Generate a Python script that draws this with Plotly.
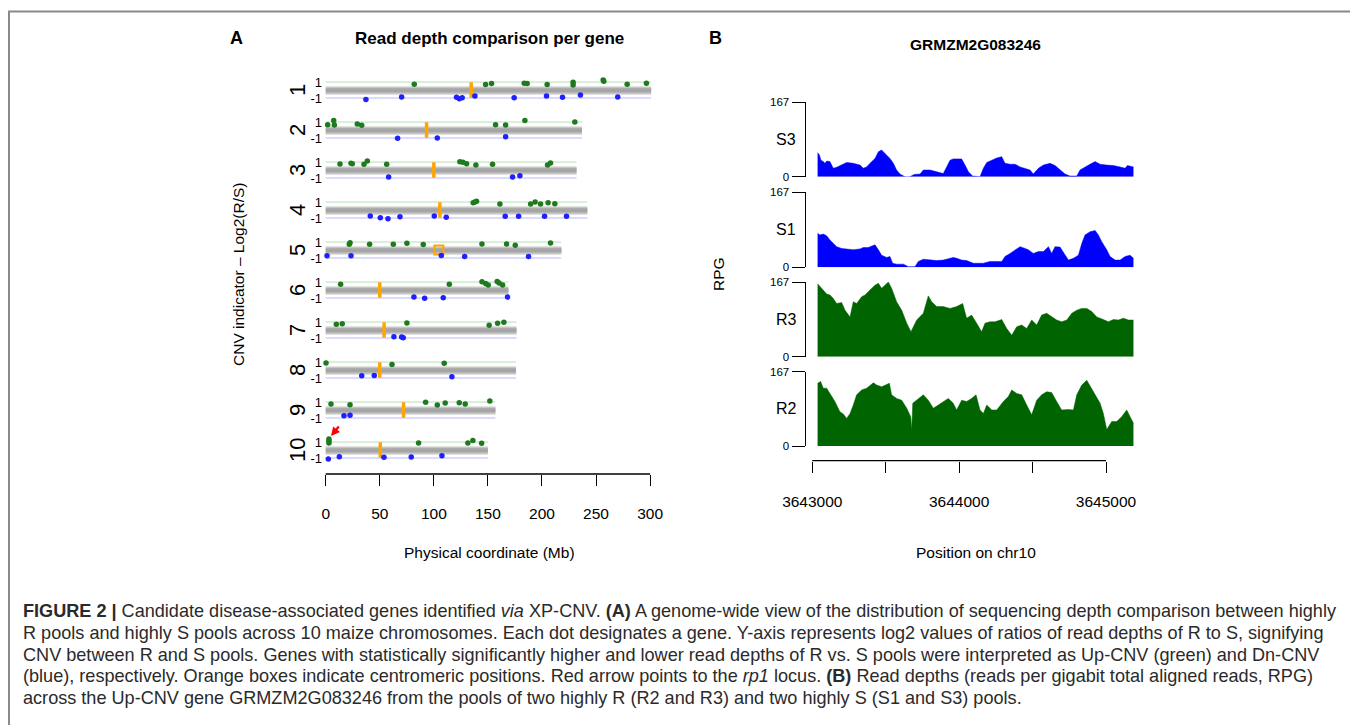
import plotly.graph_objects as go

# The page body adds an 8 px margin, so the figure is drawn 8 px smaller and all
# layout positions below are given in screen pixels and shifted by that margin.
PAGE_MARGIN = 8
W, H = 1358 - PAGE_MARGIN, 725 - PAGE_MARGIN


def fx(p):
    return (p - PAGE_MARGIN) / W


def fy(p):
    return 1 - (p - PAGE_MARGIN) / H


# ---------------- Panel A data (Mb, log2 R/S) ----------------
chrom_names = ["1", "2", "3", "4", "5", "6", "7", "8", "9", "10"]
chrom_len_mb = [301, 237, 232, 242, 218, 169, 176.5, 176, 157, 150]
centromere_mb = [134.6, 93.3, 100.0, 105.6, 104.7, 50.0, 54.0, 50.0, 72.0, 50.5]

up_pos = [
    [81.9, 147.9, 153.4, 183.6, 186.3, 204.8, 228.8, 228.8, 256.6, 257.2, 278.8, 296.6],
    [1.8, 7.4, 8.0, 29.2, 33.3, 157.1, 166.4, 184.2, 230.4],
    [13.2, 23.4, 24.6, 35.4, 38.5, 56.4, 124.1, 126.9, 130.3, 138.9, 154.3, 205.2, 207.9],
    [136.4, 138.0, 139.5, 161.1, 189.5, 193.7, 198.7, 205.7, 211.9],
    [21.8, 22.5, 40.6, 62.5, 75.1, 90.2, 144.5, 167.3, 175.3, 207.9],
    [13.8, 114.3, 144.5, 147.9, 150.3, 158.6, 160.4, 163.6],
    [9.8, 15.3, 75.1, 151.2, 159.0, 164.8],
    [0.3, 61.3, 109.6],
    [4.9, 22.5, 92.4, 103.2, 110.5, 123.5, 129.0, 151.8],
    [3.0, 3.0, 3.0, 85.9, 131.5, 136.1, 144.2],
]
up_val = [
    [0.72, 0.68, 0.8, 0.84, 0.8, 0.68, 0.96, 0.64, 1.24, 1.08, 0.72, 0.84],
    [0.67, 1.2, 0.62, 0.75, 0.58, 0.67, 0.62, 1.2, 1.0],
    [0.75, 0.83, 0.79, 0.71, 1.12, 0.71, 1.04, 0.96, 0.79, 0.62, 0.71, 0.62, 0.87],
    [0.92, 1.0, 1.08, 0.75, 0.75, 1.0, 0.75, 0.92, 0.79],
    [0.72, 0.92, 0.72, 0.72, 0.84, 0.68, 0.76, 0.76, 0.6, 0.88],
    [0.72, 0.72, 1.02, 0.81, 0.64, 1.06, 0.89, 0.64],
    [0.71, 0.79, 0.87, 0.58, 0.83, 0.96],
    [0.89, 0.68, 0.85],
    [0.75, 0.67, 0.96, 0.62, 0.87, 0.92, 0.75, 1.12],
    [1.37, 1.12, 0.87, 0.87, 0.87, 1.2, 0.83],
]
dn_pos = [
    [37.2, 70.2, 121.0, 123.5, 126.2, 138.0, 174.3, 204.2, 219.0, 235.6, 270.1],
    [66.5, 103.2, 166.4],
    [58.2, 172.8, 179.6],
    [41.2, 50.5, 57.6, 68.7, 100.4, 111.5, 166.0, 178.4, 202.4, 222.7],
    [1.2, 23.4, 106.9, 128.5, 187.6],
    [81.6, 91.5, 108.7, 168.2],
    [63.1, 70.2, 71.7],
    [33.3, 44.9, 116.7],
    [16.9, 22.5],
    [2.4, 12.6, 53.9, 79.1, 107.5],
]
dn_val = [
    [-1.2, -0.88, -0.92, -1.08, -0.96, -0.76, -0.96, -0.76, -0.92, -0.64, -0.88],
    [-1.04, -1.0, -0.83],
    [-0.87, -0.87, -0.71],
    [-0.75, -0.96, -1.08, -0.83, -0.75, -0.92, -0.79, -0.79, -0.79, -0.79],
    [-0.72, -0.72, -0.68, -0.8, -0.8],
    [-0.89, -1.02, -0.98, -0.89],
    [-0.83, -0.87, -0.96],
    [-0.72, -0.68, -0.85],
    [-0.71, -0.67],
    [-1.12, -0.83, -0.92, -0.87, -0.71],
]
x_ticks_mb = [0, 50, 100, 150, 200, 250, 300]
rp1_chrom = "10"
rp1_pos_mb = 4.9
rp1_val = 1.75

# ---------------- Panel B data (bp offset from 3643000, RPG) ----------------
region_start = 3643000
track_names = ["S3", "S1", "R3", "R2"]
track_max = 167
s3_off = [36, 48, 59, 75, 86, 98, 120, 132, 143, 166, 200, 234, 279, 325, 347, 370, 393, 427, 450, 472,
          495, 529, 552, 574, 597, 631, 665, 693, 734, 756, 802, 847, 892, 915, 938, 960, 1017, 1040, 1063, 1092,
          1142, 1165, 1188, 1222, 1256, 1290, 1312, 1347, 1381, 1415, 1449, 1483, 1505, 1540, 1574, 1619, 1653, 1687,
          1721, 1755, 1801, 1823, 1857, 1891, 1926, 1960, 2005, 2050, 2096, 2130, 2146, 2175, 2187]
s3_val = [54, 49, 37, 34, 30, 35, 34, 26, 19, 21, 26, 32, 30, 26, 19, 22, 30, 41, 56, 60,
          52, 41, 30, 15, 6, 0, 0, 5, 6, 15, 15, 11, 7, 22, 37, 40, 40, 26, 11, 1.5,
          0, 19, 32, 37, 42, 45, 30, 28, 28, 22, 19, 15, 6, 19, 26, 30, 25, 15,
          6, 1.5, 1.5, 15, 22, 28, 34, 28, 26, 25, 22, 19, 25, 22, 22]
s1_off = [36, 52, 75, 98, 120, 143, 166, 200, 234, 279, 325, 347, 381, 427, 450, 472, 506, 529, 547, 574,
          620, 654, 699, 722, 756, 802, 847, 892, 960, 983, 1017, 1051, 1097, 1165, 1210, 1290, 1312, 1347, 1381, 1415,
          1449, 1471, 1505, 1540, 1574, 1608, 1630, 1653, 1687, 1721, 1744, 1778, 1812, 1835, 1857, 1891, 1926, 1948,
          1971, 2005, 2028, 2062, 2096, 2130, 2164, 2187]
s1_val = [76, 72, 74, 70, 61, 53, 46, 42, 41, 39, 41, 44, 44, 50, 39, 27, 22, 24, 9, 7,
          7, 1.5, 1.5, 13, 18, 16, 15, 16, 22, 20, 16, 15, 9, 9, 13, 13, 24, 31, 39, 46,
          42, 39, 31, 35, 35, 46, 31, 46, 45, 27, 16, 20, 27, 53, 72, 79, 82, 72,
          57, 39, 24, 16, 16, 24, 27, 20]
r3_off = [36, 64, 98, 120, 143, 166, 200, 223, 257, 279, 302, 336, 359, 393, 427, 450, 472, 495, 518, 540,
          574, 609, 643, 672, 711, 756, 790, 813, 847, 892, 938, 983, 1024, 1051, 1085, 1119, 1153, 1176, 1210, 1244,
          1290, 1324, 1358, 1392, 1426, 1460, 1494, 1528, 1562, 1596, 1630, 1664, 1698, 1733, 1767, 1801, 1835, 1869,
          1903, 1937, 1982, 2016, 2050, 2084, 2118, 2153, 2187]
r3_val = [163, 153, 140, 138, 130, 119, 121, 104, 89, 123, 119, 134, 138, 149, 160, 164, 153, 160, 167, 153,
          123, 104, 75, 56, 82, 97, 136, 123, 112, 112, 108, 112, 119, 86, 93, 75, 56, 75, 78, 78,
          83, 63, 48, 67, 71, 63, 82, 71, 93, 97, 89, 82, 78, 82, 97, 104, 108, 108,
          101, 89, 83, 78, 83, 82, 86, 82, 82]
r2_off = [36, 57, 75, 98, 120, 154, 188, 211, 234, 257, 279, 302, 336, 370, 416, 438, 472, 506, 525, 540,
          574, 609, 643, 670, 677, 684, 722, 756, 790, 824, 858, 892, 926, 960, 983, 1017, 1051, 1085, 1115, 1142,
          1165, 1188, 1222, 1256, 1301, 1335, 1358, 1392, 1426, 1460, 1494, 1528, 1562, 1596, 1630, 1664, 1698, 1744,
          1778, 1801, 1835, 1869, 1891, 1926, 1960, 1982, 2005, 2039, 2073, 2107, 2141, 2164, 2187]
r2_val = [141, 145, 130, 130, 118, 100, 77, 72, 62, 73, 92, 115, 126, 130, 142, 137, 133, 137, 141, 115,
          107, 103, 85, 66, 36, 96, 107, 115, 103, 85, 92, 100, 107, 96, 81, 103, 100, 107, 115, 81,
          73, 92, 81, 81, 100, 111, 126, 118, 115, 92, 70, 103, 115, 122, 120, 100, 81, 82,
          81, 115, 137, 148, 135, 115, 96, 73, 37, 55, 55, 66, 81, 66, 51]
bp_ticks = [3643000, 3643500, 3644000, 3644500, 3645000]
bp_ticktext = ["3643000", "", "3644000", "", "3645000"]

caption_lines = [
    "<b>FIGURE 2 |</b> Candidate disease-associated genes identified <i>via</i> XP-CNV. <b>(A)</b> A genome-wide view of the distribution of sequencing depth comparison between highly",
    "R pools and highly S pools across 10 maize chromosomes. Each dot designates a gene. Y-axis represents log2 values of ratios of read depths of R to S, signifying",
    "CNV between R and S pools. Genes with statistically significantly higher and lower read depths of R vs. S pools were interpreted as Up-CNV (green) and Dn-CNV",
    "(blue), respectively. Orange boxes indicate centromeric positions. Red arrow points to the <i>rp1</i> locus. <b>(B)</b> Read depths (reads per gigabit total aligned reads, RPG)",
    "across the Up-CNV gene GRMZM2G083246 from the pools of two highly R (R2 and R3) and two highly S (S1 and S3) pools.",
]

# ---------------- styling ----------------
FONT = "Liberation Sans, Arial, Helvetica, sans-serif"
GREEN = "#1e7a1e"
BLUE = "#1f1fff"
ORANGE = "#FFA500"
STEP = 5  # vertical spacing between chromosome strips (log2 units)

fig = go.Figure()
annotations = []
shapes = []

tickvals_a, ticktext_a = [], []
for i, name in enumerate(chrom_names):
    off = -STEP * i
    L = chrom_len_mb[i]
    fig.add_trace(go.Scatter(x=[0, L], y=[off + 1, off + 1], mode="lines",
                             line=dict(color="#b0e2b0", width=1), hoverinfo="skip"))
    fig.add_trace(go.Scatter(x=[0, L], y=[off - 1, off - 1], mode="lines",
                             line=dict(color="#b8b8ff", width=1), hoverinfo="skip"))
    fig.add_trace(go.Scatter(x=[0, L, L, 0, 0], y=[off - 0.55, off - 0.55, off + 0.45, off + 0.45, off - 0.55],
                             mode="lines", fill="toself", fillcolor="#c6c6c6",
                             line=dict(width=0, color="#c6c6c6"), hoverinfo="skip"))
    fig.add_trace(go.Scatter(x=[0, L, L, 0, 0], y=[off - 0.32, off - 0.32, off + 0.22, off + 0.22, off - 0.32],
                             mode="lines", fill="toself", fillcolor="#a5a5a5",
                             line=dict(width=0, color="#a5a5a5"), hoverinfo="skip"))
    if name == "5":
        cmark = dict(symbol="square-open", size=9, color=ORANGE, line=dict(color=ORANGE, width=2))
    else:
        cmark = dict(symbol="line-ns", size=11, color=ORANGE, line=dict(color=ORANGE, width=3.5))
    fig.add_trace(go.Scatter(x=[centromere_mb[i]], y=[off], mode="markers", marker=cmark,
                             cliponaxis=False, hoverinfo="skip"))
    fig.add_trace(go.Scatter(x=up_pos[i], y=[v + off for v in up_val[i]], mode="markers",
                             marker=dict(color=GREEN, size=5.5), cliponaxis=False))
    fig.add_trace(go.Scatter(x=dn_pos[i], y=[v + off for v in dn_val[i]], mode="markers",
                             marker=dict(color=BLUE, size=5.5), cliponaxis=False))
    tickvals_a += [off + 1, off - 1]
    ticktext_a += ["1", "-1"]
    annotations.append(dict(x=fx(297), xref="paper", y=off, yref="y", text=name, showarrow=False,
                            textangle=-90, font=dict(size=22, family=FONT), xanchor="center", yanchor="middle"))

ri = chrom_names.index(rp1_chrom)
annotations.append(dict(x=rp1_pos_mb, y=rp1_val - STEP * ri, xref="x", yref="y", text="", showarrow=True,
                        ax=9, ay=-11, arrowcolor="red", arrowwidth=2.2, arrowhead=2, arrowsize=0.8))

# ---------------- Panel B traces ----------------
tracks = [(s3_off, s3_val, "#0000FF", "y2"), (s1_off, s1_val, "#0000FF", "y3"),
          (r3_off, r3_val, "#006400", "y4"), (r2_off, r2_val, "#006400", "y5")]
for (offs, vals, col, yax), tname in zip(tracks, track_names):
    fig.add_trace(go.Scatter(x=[region_start + o for o in offs], y=vals, mode="lines", fill="tozeroy",
                             fillcolor=col, line=dict(color=col, width=0.5), xaxis="x2", yaxis=yax,
                             hoverinfo="skip"))
    annotations.append(dict(x=fx(786), xref="paper", y=track_max / 2, yref=yax, text=tname, showarrow=False,
                            font=dict(size=16, family=FONT), xanchor="center", yanchor="middle"))

# ---------------- text ----------------
annotations += [
    dict(x=fx(236), y=fy(38), text="<b>A</b>", font=dict(size=18)),
    dict(x=fx(489), y=fy(38), text="<b>Read depth comparison per gene</b>", font=dict(size=17)),
    dict(x=fx(715), y=fy(38), text="<b>B</b>", font=dict(size=18)),
    dict(x=fx(975.5), y=fy(44), text="<b>GRMZM2G083246</b>", font=dict(size=15.5)),
    dict(x=fx(238), y=fy(274), text="CNV indicator – Log2(R/S)", textangle=-90, font=dict(size=15.5)),
    dict(x=fx(489), y=fy(552), text="Physical coordinate (Mb)", font=dict(size=15.5)),
    dict(x=fx(718), y=fy(274), text="RPG", textangle=-90, font=dict(size=15.5)),
    dict(x=fx(976), y=fy(552), text="Position on chr10", font=dict(size=15.5)),
]
for k in range(len(annotations) - 8, len(annotations)):
    annotations[k].update(xref="paper", yref="paper", showarrow=False, xanchor="center", yanchor="middle")
    annotations[k]["font"].update(family=FONT, color="black")

cap_y = [611, 633, 654.5, 676, 697.5]
for line, yy in zip(caption_lines, cap_y):
    annotations.append(dict(x=fx(21), y=fy(yy), xref="paper", yref="paper", text=line, showarrow=False,
                            xanchor="left", yanchor="middle", font=dict(size=18.1, family=FONT, color="#2a2a2a")))

# axis lines (R style: only between end ticks) and the frame
shapes.append(dict(type="line", xref="x", yref="paper", x0=0, x1=300, y0=fy(474), y1=fy(474),
                   line=dict(color="black", width=1.3)))
shapes.append(dict(type="line", xref="x2", yref="paper", x0=bp_ticks[0], x1=bp_ticks[-1],
                   y0=fy(460.7), y1=fy(460.7), line=dict(color="black", width=1.3)))
shapes.append(dict(type="rect", xref="paper", yref="paper", x0=fx(9), x1=fx(1353), y0=fy(11.5), y1=fy(760),
                   line=dict(color="#8a8a8a", width=2)))

# ---------------- axes ----------------
px_per_mb = 1.0813
xa_left, xa_right = 323, 670
px_per_bp = 0.14685
xb_left, xb_right = 805.7, 1140
common = dict(showgrid=False, zeroline=False, color="black", automargin=False)

layout = dict(
    width=W, height=H, margin=dict(l=0, r=0, t=0, b=0, pad=0, autoexpand=False),
    paper_bgcolor="white", plot_bgcolor="white", showlegend=False,
    font=dict(family=FONT, color="black"),
    xaxis=dict(domain=[fx(xa_left), fx(xa_right)],
               range=[(xa_left - 325.7) / px_per_mb, (xa_right - 325.7) / px_per_mb],
               tickvals=x_ticks_mb, ticks="outside", ticklen=11, tickwidth=1.3, tickcolor="black",
               showline=False, tickfont=dict(size=15.5), ticklabelstandoff=14, anchor="y", **common),
    yaxis=dict(domain=[fy(474), fy(70)], range=[-48, 2.5], tickvals=tickvals_a, ticktext=ticktext_a,
               ticks="", showline=False, tickfont=dict(size=13), anchor="x", **common),
    xaxis2=dict(domain=[fx(xb_left), fx(xb_right)],
                range=[bp_ticks[0] - (812.3 - xb_left) / px_per_bp, bp_ticks[0] + (xb_right - 812.3) / px_per_bp],
                tickvals=bp_ticks, ticktext=bp_ticktext, ticks="outside", ticklen=11, tickwidth=1.3,
                tickcolor="black", showline=False, tickfont=dict(size=15.5), ticklabelstandoff=16,
                anchor="free", position=fy(460.7), **common),
    annotations=annotations, shapes=shapes,
)
track_domains = [(176.7, 102.3), (267.3, 192.3), (356.7, 282.0), (446.0, 371.7)]
for k, (bot, top) in enumerate(track_domains):
    layout["yaxis%d" % (k + 2)] = dict(domain=[fy(bot), fy(top)], range=[0, track_max],
                                       tickvals=[0, track_max], ticktext=["0", str(track_max)],
                                       ticks="outside", ticklen=13, tickwidth=1.3, tickcolor="black",
                                       showline=True, linewidth=1.3, linecolor="black",
                                       tickfont=dict(size=11.5), anchor="x2", **common)
fig.update_layout(**layout)
fig.write_html("out.html")
